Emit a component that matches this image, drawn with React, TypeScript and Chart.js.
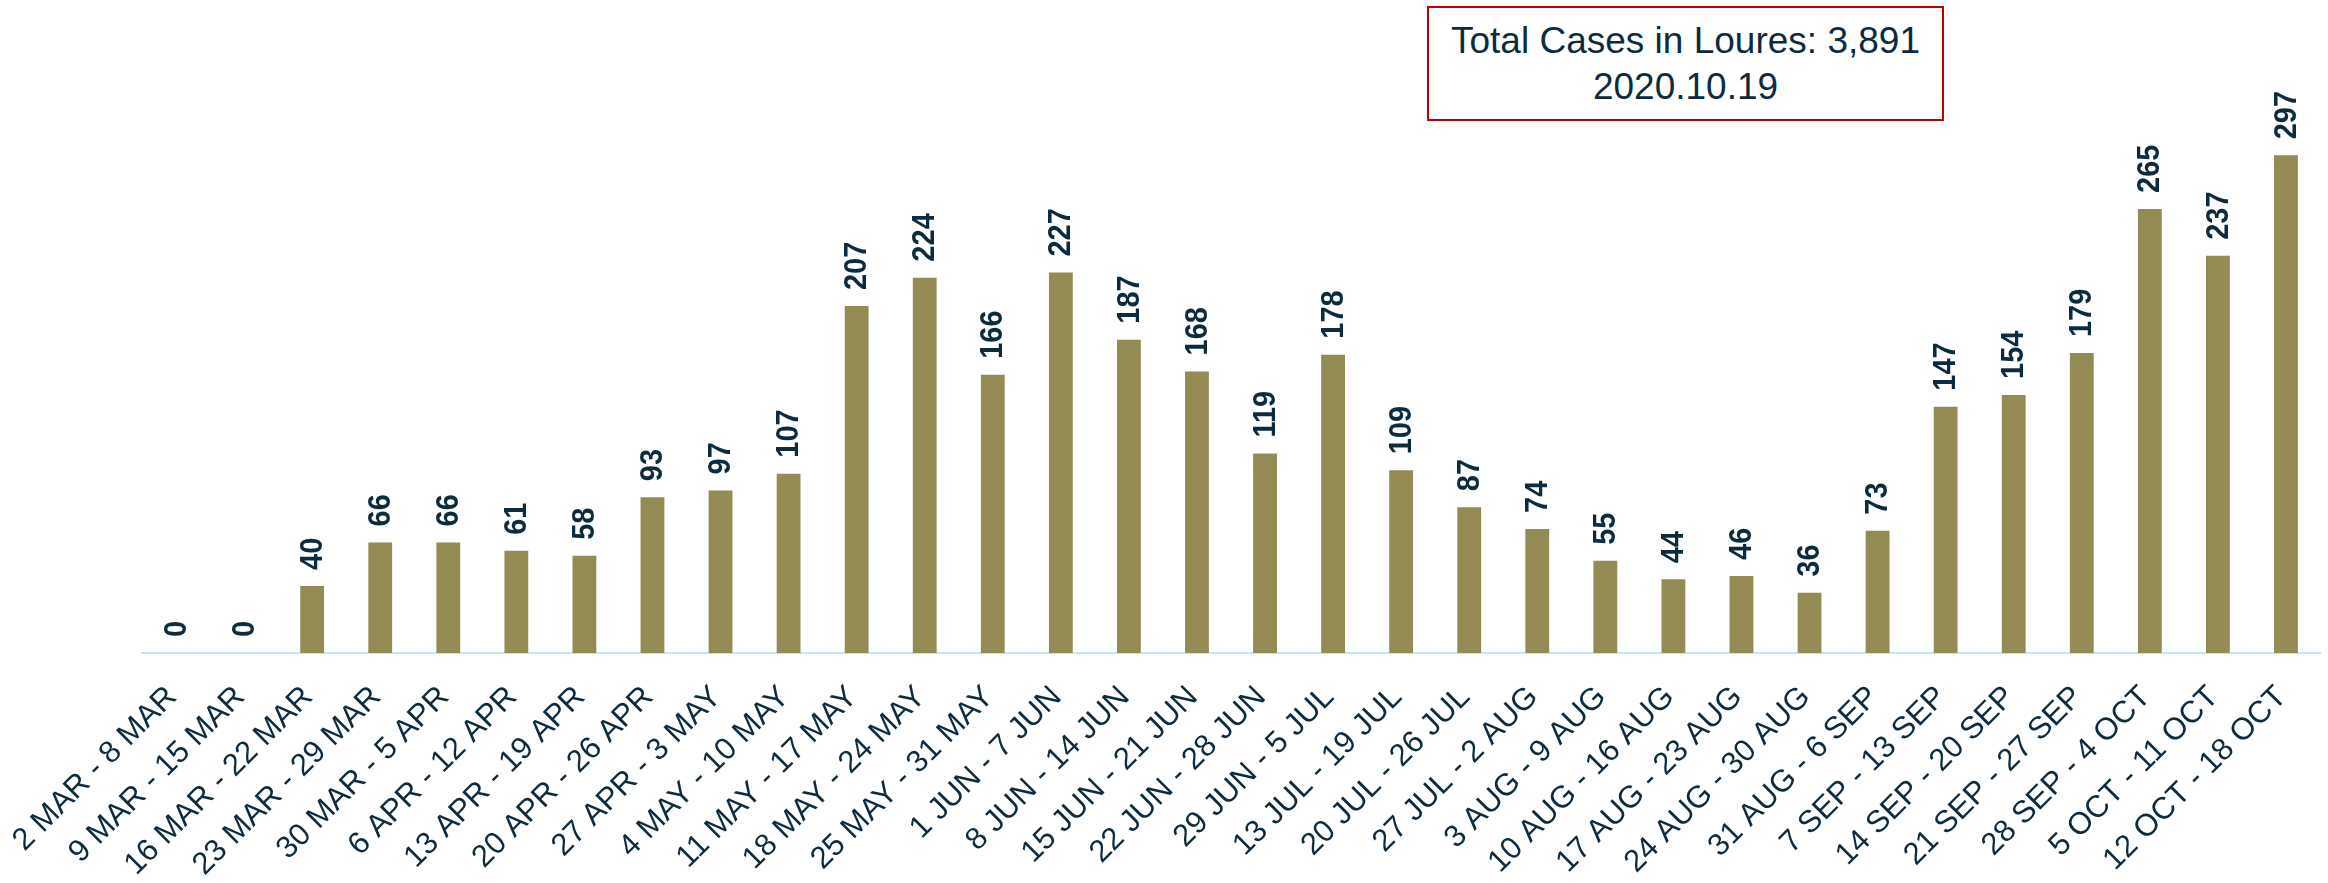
import React, { useEffect, useRef } from "react";
import { Chart, registerables } from "chart.js";

Chart.register(...registerables);

const weeks: string[] = [
  "2 MAR - 8 MAR", "9 MAR - 15 MAR", "16 MAR - 22 MAR", "23 MAR - 29 MAR",
  "30 MAR - 5 APR", "6 APR - 12 APR", "13 APR - 19 APR", "20 APR - 26 APR",
  "27 APR - 3 MAY", "4 MAY - 10 MAY", "11 MAY - 17 MAY", "18 MAY - 24 MAY",
  "25 MAY - 31 MAY", "1 JUN - 7 JUN", "8 JUN - 14 JUN", "15 JUN - 21 JUN",
  "22 JUN - 28 JUN", "29 JUN - 5 JUL", "13 JUL - 19 JUL", "20 JUL - 26 JUL",
  "27 JUL - 2 AUG", "3 AUG - 9 AUG", "10 AUG - 16 AUG", "17 AUG - 23 AUG",
  "24 AUG - 30 AUG", "31 AUG - 6 SEP", "7 SEP - 13 SEP", "14 SEP - 20 SEP",
  "21 SEP - 27 SEP", "28 SEP - 4 OCT", "5 OCT - 11 OCT", "12 OCT - 18 OCT",
];

const cases: number[] = [
  0, 0, 40, 66, 66, 61, 58, 93, 97, 107, 207, 224, 166, 227, 187, 168,
  119, 178, 109, 87, 74, 55, 44, 46, 36, 73, 147, 154, 179, 265, 237, 297,
];

const titleLines: string[] = ["Total Cases in Loures: 3,891", "2020.10.19"];

const BAR_COLOR = "#948A54";
const TEXT_COLOR = "#0D2B3E";
const AXIS_COLOR = "#C3E6F4";
const FONT = '"Liberation Sans", Arial, Helvetica, sans-serif';

const valueLabels = {
  id: "valueLabels",
  afterDatasetsDraw(chart: any) {
    const ctx = chart.ctx;
    const meta = chart.getDatasetMeta(0);
    ctx.save();
    ctx.font = `bold 29px ${FONT}`;
    ctx.fillStyle = TEXT_COLOR;
    ctx.textAlign = "left";
    ctx.textBaseline = "middle";
    meta.data.forEach((bar: any, i: number) => {
      ctx.save();
      ctx.translate(bar.x + 1, bar.y - 16);
      ctx.rotate(-Math.PI / 2);
      ctx.scale(1, 1.08);
      ctx.fillText(String(cases[i]), 0, 0);
      ctx.restore();
    });
    ctx.restore();
  },
};

export default function App() {
  const canvasRef = useRef<HTMLCanvasElement | null>(null);

  useEffect(() => {
    if (!canvasRef.current) return;
    const chart = new Chart(canvasRef.current, {
      type: "bar",
      data: {
        labels: weeks,
        datasets: [
          {
            data: cases,
            backgroundColor: BAR_COLOR,
            borderWidth: 0,
            barPercentage: 0.7,
            categoryPercentage: 0.5,
          },
        ],
      },
      options: {
        animation: false,
        responsive: false,
        maintainAspectRatio: false,
        layout: { padding: { top: 100, left: 142, right: 8, bottom: 0 } },
        plugins: {
          legend: { display: false },
          tooltip: { enabled: false },
          title: { display: false },
        },
        scales: {
          x: {
            grid: { display: false, drawTicks: false },
            border: { display: true, color: AXIS_COLOR, width: 2 },
            ticks: {
              autoSkip: false,
              maxRotation: 45,
              minRotation: 45,
              padding: 26,
              labelOffset: -4,
              color: TEXT_COLOR,
              font: { family: FONT, size: 31 },
            },
            afterFit: (scale: any) => {
              scale.height = 230;
              scale.paddingLeft = 0;
              scale.paddingRight = 0;
            },
          },
          y: {
            display: false,
            min: 0,
            max: 330,
          },
        },
      },
      plugins: [valueLabels],
    });
    return () => chart.destroy();
  }, []);

  return (
    <div style={{ position: "fixed", left: 0, top: 0, width: 2328, height: 883, background: "#fff" }}>
      <canvas ref={canvasRef} width={2328} height={883} style={{ position: "absolute", left: 0, top: 0 }} />
      <div
        style={{
          position: "absolute",
          left: 1427,
          top: 6,
          width: 517,
          height: 115,
          boxSizing: "border-box",
          border: "2px solid #C00000",
          background: "#fff",
          textAlign: "center",
          fontFamily: FONT,
          fontSize: 37,
          lineHeight: "46px",
          color: TEXT_COLOR,
          paddingTop: 10,
        }}
      >
        {titleLines.map((t) => (
          <div key={t}>{t}</div>
        ))}
      </div>
    </div>
  );
}
